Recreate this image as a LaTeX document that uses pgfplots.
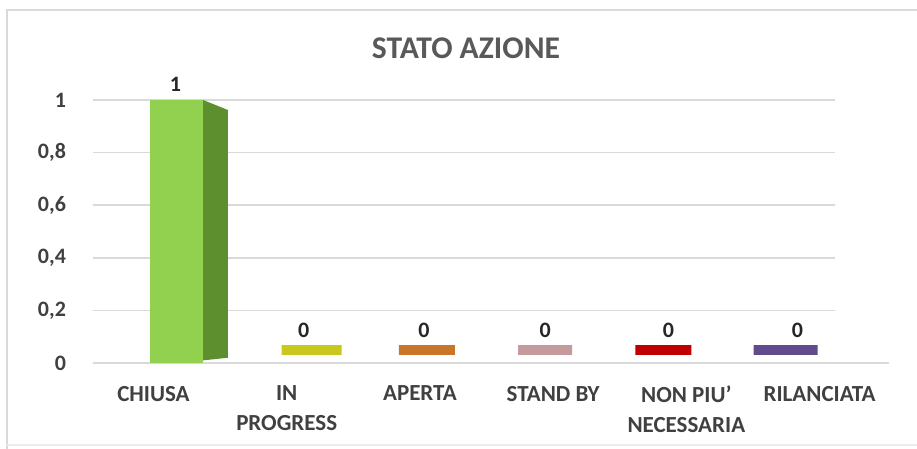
\documentclass[border=0pt]{standalone}
\usepackage{pgfplots}
\pgfplotsset{compat=1.18}
\usepackage{fontspec}
\setmainfont{Carlito}
\definecolor{gridc}{HTML}{D9D9D9}
\definecolor{txt}{HTML}{404040}
\definecolor{titc}{HTML}{595959}
\definecolor{gfront}{HTML}{92D050}
\definecolor{gside}{HTML}{5E8F2E}
\definecolor{cyel}{HTML}{C8C81E}
\definecolor{cora}{HTML}{C9762B}
\definecolor{cros}{HTML}{C49A9C}
\definecolor{cred}{HTML}{C00000}
\definecolor{cpur}{HTML}{604C8C}
\pgfplotsset{zlab/.style={nodes near coords, nodes near coords style={font=\fontsize{11}{13}\selectfont\bfseries, text=black!85, anchor=south, yshift=0.5pt, xshift=#1}}}
\begin{document}
\begin{tikzpicture}
\path[use as bounding box] (0,0) rectangle (458.5pt,224.5pt);
\draw[gridc, line width=0.8pt] (3.5pt,0pt) -- (3.5pt,219.5pt) -- (458.5pt,219.5pt);
\draw[gridc!50, line width=0.6pt] (3.5pt,2pt) -- (458.5pt,2pt);
\node[font=\fontsize{15.8}{18}\selectfont\bfseries, text=titc] at (233pt,200.5pt) {STATO AZIONE};
\begin{axis}[
  at={(46.5pt,43pt)}, anchor=south west,
  scale only axis, width=371pt, height=131.5pt,
  xmin=-0.454, xmax=5.116, ymin=0, ymax=1,
  clip=false,
  /pgf/number format/assume math mode=true,
  axis line style={draw=none},
  major tick length=0pt,
  ymajorgrids, grid style={gridc, line width=0.8pt},
  xtick={0,1,2,3,4,5},
  xticklabels={CHIUSA,{IN\\PROGRESS},APERTA,STAND BY,{NON PIU'\\NECESSARIA},RILANCIATA},
  xticklabel style={font=\fontsize{11.5}{15}\selectfont\bfseries, text=txt, align=center, anchor=north, yshift=-8pt},
  ytick={0,0.2,0.4,0.6,0.8,1},
  yticklabels={0,{0,2},{0,4},{0,6},{0,8},1},
  yticklabel style={font=\fontsize{11}{13}\selectfont\bfseries, text=txt, xshift=-10pt},
]
\draw[gridc, line width=0.8pt] (axis cs:-0.454,0) -- (axis cs:5.52,0);
% side face of the green bar
\addplot[fill=gside, draw=none] coordinates {(0.372,0.01) (0.559,0.02) (0.559,0.962) (0.372,1)} -- cycle;
\addplot[ybar, bar width=26.5pt, bar shift=11.5pt, fill=gfront, draw=none, zlab=11pt]
  coordinates {(0,1)};
\addplot[ybar, bar width=30pt, bar shift=12.5pt, yshift=6.5pt, fill=cyel, draw=cyel, line width=5pt, zlab=8.5pt]
  coordinates {(1,0)};
\addplot[ybar, bar width=28pt, bar shift=3.5pt, yshift=6.5pt, fill=cora, draw=cora, line width=5pt, zlab=2pt]
  coordinates {(2,0)};
\addplot[ybar, bar width=27pt, bar shift=-4pt, yshift=6.5pt, fill=cros, draw=cros, line width=5pt, zlab=-4pt]
  coordinates {(3,0)};
\addplot[ybar, bar width=28pt, bar shift=-11.5pt, yshift=6.5pt, fill=cred, draw=cred, line width=5pt, zlab=-9pt]
  coordinates {(4,0)};
\addplot[ybar, bar width=32pt, bar shift=-17pt, yshift=6.5pt, fill=cpur, draw=cpur, line width=5pt, zlab=-11pt]
  coordinates {(5,0)};
\end{axis}
\end{tikzpicture}
\end{document}
